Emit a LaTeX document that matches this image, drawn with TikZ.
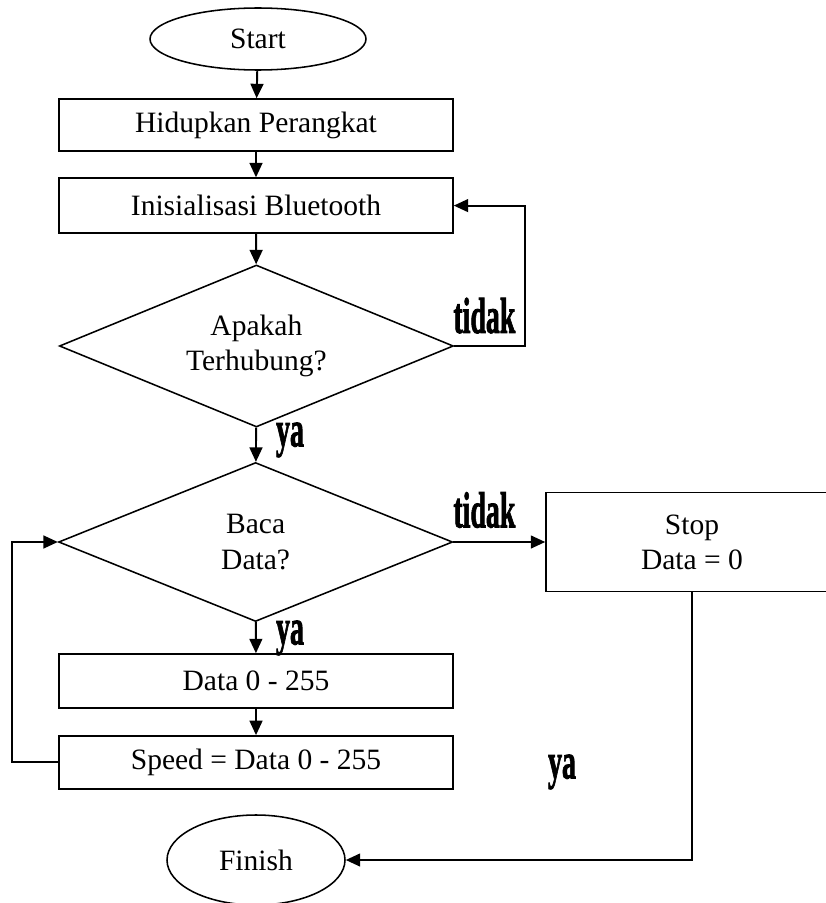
\documentclass[tikz,border=0pt]{standalone}
\usepackage{fontspec}
\setmainfont{Liberation Serif}
\newfontfamily\jawabfont[FakeBold=2]{Liberation Serif}
\usetikzlibrary{shapes.geometric,arrows.meta}

\tikzset{
	proses/.style={draw, line width=1.1pt, rectangle, minimum width=9.85cm, inner sep=0pt, align=center},
	terminal/.style={draw, line width=1.1pt, ellipse, inner sep=0pt},
	keputusan/.style={draw, line width=1.1pt, diamond, aspect=2.4, minimum width=9.85cm, minimum height=4cm, inner sep=0pt, align=center},
	alur/.style={line width=1.4pt, -{Triangle[length=3.6mm, width=3.2mm]}},
	jawab/.style={inner sep=0pt}
}
\newcommand{\jawabteks}[1]{\scalebox{0.55}[1]{\fontsize{36}{40}\selectfont\jawabfont\bfseries #1}}

\begin{document}
\begin{tikzpicture}
			\path[use as bounding box] (0,0) rectangle (20.625,-22.575);
			\fontsize{21}{25}\selectfont
			
			% Start and finish
			\node[terminal, minimum width=5.4cm, minimum height=1.55cm] (start) at (6.45,-0.975) {Start};
			\node[terminal, minimum width=4.45cm, minimum height=2.25cm] (finish) at (6.4,-21.5) {Finish};
			
			% Boxes
			\node[proses, minimum height=1.3cm] (hidup) at (6.4,-3.125) {Hidupkan Perangkat};
			\node[proses, minimum height=1.375cm] (init) at (6.4,-5.14) {Inisialisasi Bluetooth};
			\node[proses, minimum height=1.35cm] (data) at (6.4,-17.025) {Data 0 - 255};
			\node[proses, minimum height=1.325cm] (speed) at (6.4,-19.06) {Speed = Data 0 - 255};
			\node[proses, minimum width=7.3cm, minimum height=2.475cm] (stop) at (17.3,-13.55) {Stop\\Data = 0};
			
			% Decisions
			\node[keputusan, minimum height=4.05cm] (tanya1) at (6.41,-8.65) {Apakah\\Terhubung?};
			\node[keputusan, minimum height=3.975cm] (tanya2) at (6.39,-13.55) {Baca\\Data?};
			
			% Corners of the loops
			\coordinate (balik1) at (13.125,-5.14);
			\coordinate (kiri) at (0.3,-13.55);
			
			% Arrows
			\draw[alur] (start) -- (hidup);
			\draw[alur] (hidup) -- (init);
			\draw[alur] (init) -- (tanya1);
			\draw[alur] (tanya1.east) -| (balik1) |- (init.east);
			\draw[alur] (tanya1) -- (tanya2);
			\draw[alur] (tanya2.east) -- (stop.west);
			\draw[alur] (tanya2) -- (data);
			\draw[alur] (data) -- (speed);
			\draw[alur] (speed.west) -| (kiri) |- (tanya2.west);
			\draw[alur] (stop.south) |- (finish.east);
			
			% Answers
			\node[jawab] (tidak1) at (12.11,-7.89) {\jawabteks{tidak}};
			\node[jawab] (ya1) at (7.25,-11.0) {\jawabteks{ya}};
			\node[jawab] (tidak2) at (12.11,-12.75) {\jawabteks{tidak}};
			\node[jawab] (ya2) at (7.25,-15.95) {\jawabteks{ya}};
			\node[jawab] (ya3) at (14.05,-19.3) {\jawabteks{ya}};
			
		\end{tikzpicture}
\end{document}
